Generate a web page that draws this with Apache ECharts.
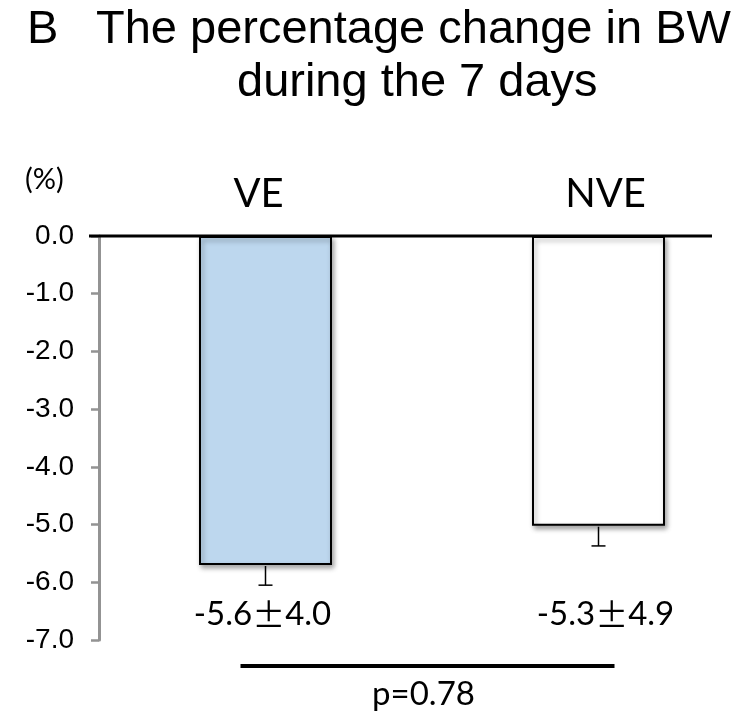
<!DOCTYPE html>
<html>
<head>
<meta charset="utf-8">
<script src="https://cdn.jsdelivr.net/npm/echarts@6/dist/echarts.min.js"></script>
<style>html,body{margin:0;padding:0;background:#fff;}#c{width:751px;height:715px;}</style>
</head>
<body>
<div id="c"></div>
<script>
// ---- data ----
var categories = ['VE', 'NVE'];
var means = [-5.7, -5.02];          // bar ends as drawn
var errorEnds = [-6.05, -5.37];     // lower error-bar ends
var meanParts = [['-5.6', '4.0'], ['-5.3', '4.9']];  // "mean ± SD" labels
var pText = 'p=0.78';
var barColors = ['#BDD7EE', '#FFFFFF'];

var chart = echarts.init(document.getElementById('c'), null, {renderer: 'canvas'});
var LATO = 'Lato, "Open Sans", sans-serif';
var ARIAL = '"Liberation Sans", Arial, sans-serif';
var CJK = '"Noto Sans CJK JP", sans-serif';

var option = {
  backgroundColor: '#fff',
  animation: false,
  title: [
    {text: 'B', left: 22, top: 2, textStyle: {fontFamily: ARIAL, fontSize: 47, fontWeight: 'normal', color: '#000'}},
    {text: 'The percentage change in BW', left: 91, top: 2, textStyle: {fontFamily: ARIAL, fontSize: 47, fontWeight: 'normal', color: '#000'}},
    {text: 'during the 7 days', left: 232, top: 55, textStyle: {fontFamily: ARIAL, fontSize: 47, fontWeight: 'normal', color: '#000'}},
    {text: '(%)', left: 20, top: 160, textStyle: {fontFamily: LATO, fontSize: 29, fontWeight: 'normal', color: '#000'}}
  ],
  grid: {left: 99, width: 666, top: 236, bottom: 75, containLabel: false, outerBoundsMode: 'none'},
  xAxis: {
    type: 'category',
    data: categories,
    position: 'top',
    axisLine: {show: false},
    axisTick: {show: false},
    axisLabel: {margin: 22, color: '#000',
      formatter: function (v, i) { return '{c' + i + '|' + v + '}'; },
      rich: {
        c0: {fontFamily: LATO, fontSize: 40, color: '#000', padding: [0, 14, 0, 0]},
        c1: {fontFamily: LATO, fontSize: 40, color: '#000', padding: [0, 0, 0, 14]}
      }
    }
  },
  yAxis: {
    type: 'value',
    min: -7, max: 0, interval: 1,
    axisLine: {show: true, lineStyle: {color: '#939393', width: 3}},
    axisTick: {show: true, length: 8, lineStyle: {color: '#939393', width: 2.5}},
    splitLine: {show: false},
    axisLabel: {margin: 25, fontFamily: ARIAL, fontSize: 28, color: '#000',
      formatter: function (v) { return v.toFixed(1); }}
  },
  series: [
    {
      type: 'bar',
      barWidth: 133,
      data: means.map(function (v, i) {
        return {value: v, itemStyle: {color: barColors[i]}};
      }),
      itemStyle: {borderColor: '#000', borderWidth: 2,
        shadowColor: 'rgba(0,0,0,0.35)', shadowBlur: 5, shadowOffsetX: 2, shadowOffsetY: 3},
      z: 2
    },
    {
      type: 'custom',
      data: errorEnds.map(function (e, i) { return [i, means[i], e]; }),
      renderItem: function (params, api) {
        var top = api.coord([api.value(0), api.value(1)]);
        var bot = api.coord([api.value(0), api.value(2)]);
        var hw = 7;
        var st = {stroke: '#000', lineWidth: 1.5};
        return {type: 'group', children: [
          {type: 'line', shape: {x1: top[0], y1: top[1] + 1, x2: bot[0], y2: bot[1]}, style: st},
          {type: 'line', shape: {x1: bot[0] - hw, y1: bot[1], x2: bot[0] + hw, y2: bot[1]}, style: st}
        ]};
      },
      z: 3
    }
  ]
};
chart.setOption(option);

function px(cat, val) { return chart.convertToPixel({gridIndex: 0}, [cat, val]); }
var z0 = px(0, 0);
var labelDx = [-3, 7];
var gfx = [
  {type: 'line', shape: {x1: 89, y1: z0[1], x2: 712, y2: z0[1]}, style: {stroke: '#000', lineWidth: 3}, z: 10}
];
for (var i = 0; i < categories.length; i++) {
  var p = px(i, -6.56);
  gfx.push({type: 'text', x: p[0] + labelDx[i], y: p[1],
    style: {
      text: '{n|' + meanParts[i][0] + '}{pm|\u00B1}{n|' + meanParts[i][1] + '}',
      align: 'center', verticalAlign: 'middle',
      rich: {
        n: {fontFamily: LATO, fontSize: 33, fill: '#000', color: '#000'},
        pm: {fontFamily: CJK, fontSize: 33, fill: '#000', color: '#000'}
      }
    }, z: 10});
}
var a = px(0, -7.45), b = px(1, -7.45);
gfx.push({type: 'line', shape: {x1: a[0] - 25, y1: a[1], x2: b[0] + 16, y2: b[1]}, style: {stroke: '#000', lineWidth: 4}, z: 10});
var pm = px(0, -7.95);
gfx.push({type: 'text', x: (a[0] - 25 + b[0] + 16) / 2 - 4, y: pm[1],
  style: {text: pText, font: '33px ' + LATO, fill: '#000', align: 'center', verticalAlign: 'middle'}, z: 10});
chart.setOption({graphic: gfx});
</script>
</body>
</html>
